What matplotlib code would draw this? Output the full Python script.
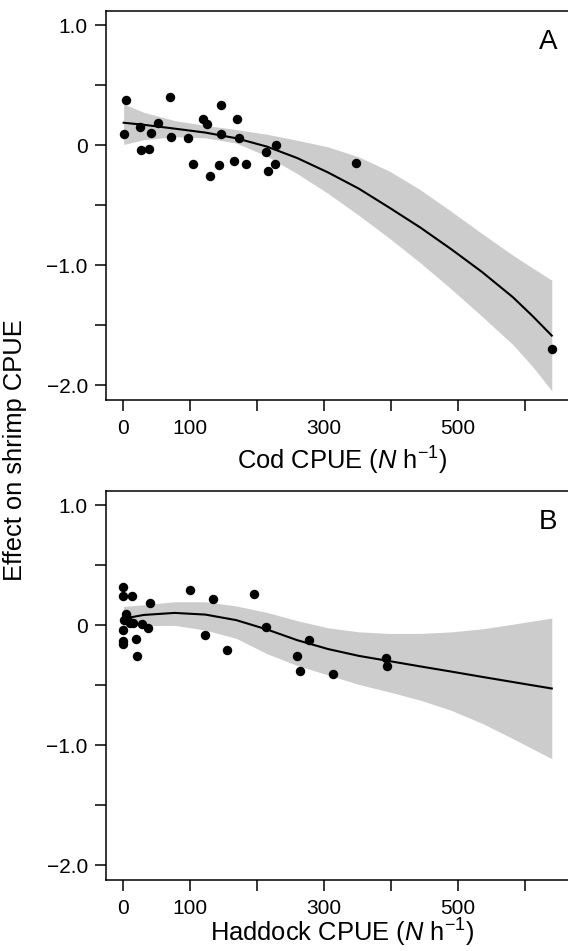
import numpy as np
import matplotlib
matplotlib.use("Agg")
import matplotlib.pyplot as plt

plt.rcParams['font.family'] = ['Liberation Sans', 'DejaVu Sans']
plt.rcParams['mathtext.fontset'] = 'custom'
plt.rcParams['mathtext.rm'] = 'Liberation Sans'
plt.rcParams['mathtext.it'] = 'Liberation Sans:italic'

# panel A: cod
cod_x = [4.0, 70.2, 1.5, 25.4, 41.3, 51.7, 27.3, 38.3, 72.1, 96.5, 103.9, 119.9, 125.3,
         145.7, 146.6, 129.8, 143.8, 165.6, 169.6, 173.6, 183.1, 212.9, 228.9, 226.4, 216.9,
         347.6, 640.4]
cod_y = [0.381, 0.400, 0.095, 0.156, 0.106, 0.186, -0.041, -0.033, 0.069, 0.061, -0.155,
         0.223, 0.181, 0.339, 0.098, -0.256, -0.161, -0.131, 0.220, 0.061, -0.158, -0.058,
         0.000, -0.158, -0.214, -0.147, -1.698]
cod_grid = [1, 31, 77, 123, 169, 215, 260, 306, 352, 398, 444, 490, 536, 582, 611, 640]
cod_fit = [0.189, 0.172, 0.140, 0.107, 0.060, -0.010, -0.105, -0.225, -0.360, -0.520,
           -0.685, -0.865, -1.055, -1.265, -1.420, -1.585]
cod_hi = [0.345, 0.276, 0.207, 0.167, 0.132, 0.093, 0.043, -0.012, -0.096, -0.215, -0.370,
          -0.550, -0.735, -0.915, -1.020, -1.123]
cod_lo = [0.008, 0.048, 0.073, 0.063, 0.020, -0.090, -0.235, -0.400, -0.582, -0.775,
          -0.979, -1.197, -1.425, -1.660, -1.840, -2.045]

# panel B: haddock
had_x = [0.5, 0.5, 13.0, 40.3, 100.0, 134.7, 195.3, 4.0, 1.5, 15.4, 27.8, 37.8, 0.5, 0.5,
         0.5, 18.9, 21.3, 122.8, 154.9, 213.5, 259.2, 277.9, 264.1, 313.7, 392.6, 394.5,
         5.3, 10.8]
had_y = [0.324, 0.246, 0.246, 0.187, 0.295, 0.216, 0.260, 0.098, 0.041, 0.020, 0.014,
         -0.020, -0.039, -0.134, -0.152, -0.111, -0.259, -0.079, -0.206, -0.014, -0.253,
         -0.125, -0.377, -0.403, -0.272, -0.336, 0.059, 0.020]
had_grid = [0.5, 31, 77, 123, 169, 215, 260, 306, 352, 398, 444, 490, 536, 582, 640]
had_fit = [0.056, 0.087, 0.104, 0.090, 0.044, -0.034, -0.123, -0.197, -0.254, -0.298,
           -0.342, -0.385, -0.429, -0.472, -0.526]
had_hi = [0.158, 0.172, 0.197, 0.197, 0.162, 0.108, 0.039, -0.020, -0.054, -0.067, -0.067,
          -0.054, -0.029, 0.010, 0.061]
had_lo = [-0.014, -0.002, 0.000, -0.039, -0.108, -0.236, -0.334, -0.413, -0.492, -0.555,
          -0.624, -0.708, -0.816, -0.944, -1.111]

xticks = [0, 100, 200, 300, 400, 500, 600]
xticklabels = ['0', '100', '', '300', '', '500', '']
yticks = [-2.0, -1.5, -1.0, -0.5, 0.0, 0.5, 1.0]
yticklabels = ['\u22122.0', '', '\u22121.0', '', '0', '', '1.0']

fig = plt.figure(figsize=(5.68, 9.51), dpi=100)
axA = fig.add_axes([0.1863, 0.5796, 0.8153, 0.4088])
axB = fig.add_axes([0.1863, 0.0749, 0.8153, 0.4088])

panels = [
    (axA, cod_x, cod_y, cod_grid, cod_fit, cod_hi, cod_lo,
     'Cod CPUE ($\\mathit{N}$ h$^{-1}$)', 'A', -0.158),
    (axB, had_x, had_y, had_grid, had_fit, had_hi, had_lo,
     'Haddock CPUE ($\\mathit{N}$ h$^{-1}$)', 'B', -0.137),
]

for ax, px, py, gx, fit, hi, lo, xlab, letter, ly in panels:
    ax.fill_between(gx, lo, hi, color='#cccccc', lw=0, zorder=1)
    ax.plot(gx, fit, color='black', lw=1.5, zorder=2)
    ax.plot(px, py, 'o', color='black', ms=6.8, mew=0, zorder=3)
    ax.set_xlim(-25.6, 665.6)
    ax.set_ylim(-2.12, 1.12)
    ax.set_xticks(xticks)
    ax.set_xticklabels(xticklabels)
    ax.set_yticks(yticks)
    ax.set_yticklabels(yticklabels)
    ax.tick_params(axis='x', direction='out', length=8, width=1.1, pad=6, labelsize=15)
    ax.tick_params(axis='y', direction='out', length=8, width=1.1, pad=5, labelsize=15)
    for s in ['left', 'top', 'bottom']:
        ax.spines[s].set_linewidth(1.1)
    ax.spines['right'].set_visible(False)
    ax.set_xlabel(xlab, fontsize=18.4)
    ax.xaxis.set_label_coords(0.51, ly)
    ax.xaxis.label.set_verticalalignment('center')
    ax.text(0.955, 0.92, letter, transform=ax.transAxes, fontsize=20, ha='center', va='center')

fig.text(0.027, 0.527, 'Effect on shrimp CPUE', rotation=90, fontsize=18.4,
         ha='center', va='center')

fig.savefig('out.png', dpi=100)
